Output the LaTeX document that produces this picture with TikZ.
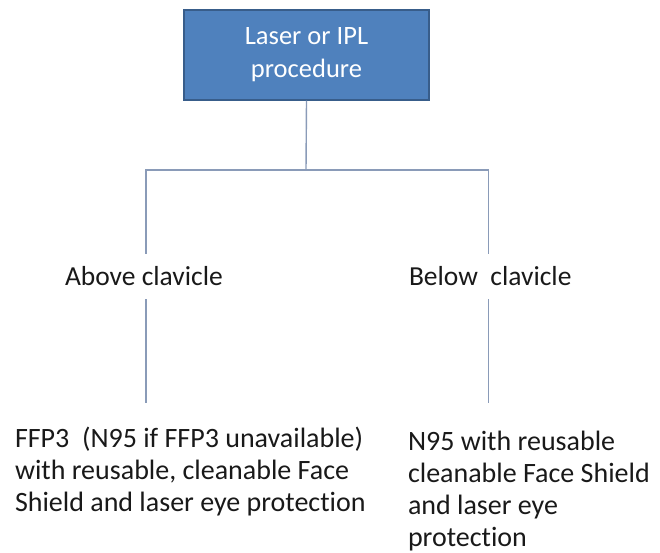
\documentclass[tikz,border=0pt]{standalone}
\usepackage{fontspec}
\setmainfont{Carlito}[RawFeature={-liga}]
\definecolor{boxfill}{HTML}{4F81BD}
\definecolor{boxline}{HTML}{385D8A}
\definecolor{conn}{HTML}{8A9BB8}
\tikzset{
  lbl/.style={inner sep=0pt, outer sep=0pt, font={\fontsize{28}{32.2}\selectfont}, text=black!90, align=left},
  topbox/.style={draw=boxline, fill=boxfill, line width=1.5pt, minimum width=245pt, minimum height=90pt, inner sep=0pt, text=white, align=center, font={\fontsize{26.5}{33}\selectfont}},
  link/.style={draw=conn, line width=1.4pt}
}
\begin{document}
\begin{tikzpicture}[x=1pt,y=-1pt]
\useasboundingbox (0,0) rectangle (660,553);
\node[topbox] (box) at (306.5,55) {Laser or IPL\\procedure};
\node[lbl, anchor=base west, font={\fontsize{27.5}{32}\selectfont}] (above) at (65,285) {Above clavicle};
\node[lbl, anchor=base west, font={\fontsize{27.5}{32}\selectfont}] (below) at (409,285) {Below~~clavicle};
\node[lbl, anchor=north west] (left) at (15,424.5) {\strut FFP3~~(N95 if FFP3 unavailable)\\with reusable, cleanable Face\\Shield and laser eye protection};
\node[lbl, anchor=north west] (right) at (408,427.5) {\strut N95 with reusable\\cleanable Face Shield\\and laser eye\\protection};
\coordinate (j) at (306,170);
\coordinate (a1) at (146,254);
\coordinate (b1) at (488.5,254);
\coordinate (a2) at (146,299);
\coordinate (a3) at (146,403);
\coordinate (b2) at (488.5,299);
\coordinate (b3) at (488.5,403);
\draw[link] (box.south) -- (j);
\draw[link] (j) -| (a1);
\draw[link] (j) -| (b1);
\draw[link] (a2) -- (a3);
\draw[link] (b2) -- (b3);
\end{tikzpicture}
\end{document}
